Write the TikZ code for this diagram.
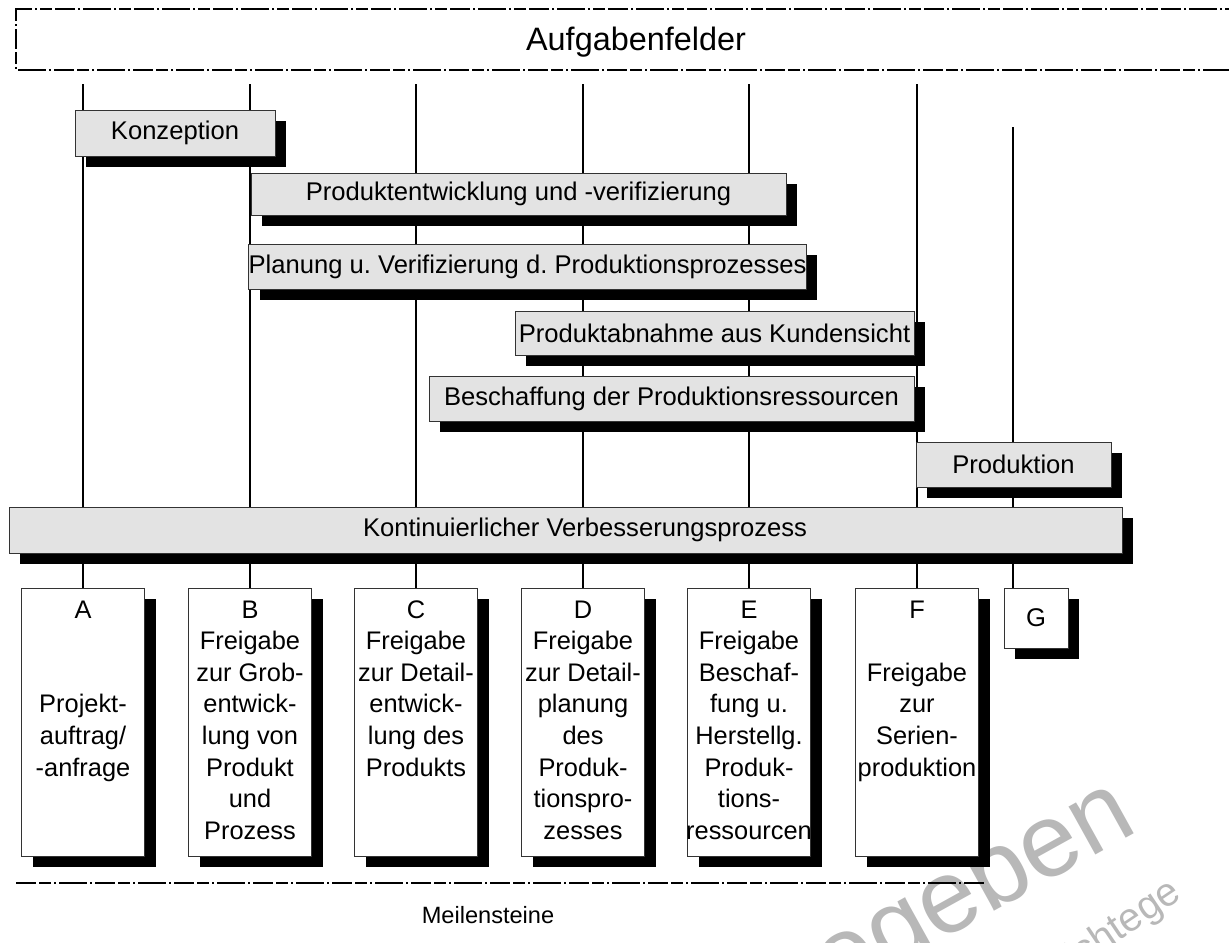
\documentclass[tikz,border=0pt]{standalone}
\usepackage{fontspec}
\setmainfont{Liberation Sans}
\usetikzlibrary{shadows}
\frenchspacing

\begin{document}
\begin{tikzpicture}[x=0.5pt,y=-0.5pt,
  every node/.style={inner sep=0pt, outer sep=0pt},
  vline/.style={line width=0.6pt, draw=black},
  shadowed/.style={drop shadow={shadow xshift=5.5pt, shadow yshift=-5.5pt,
      fill=black, opacity=1, draw=none}},
  taskbox/.style={shadowed, draw=black!80, line width=0.5pt, fill=black!11,
      font=\fontsize{12.8}{15}\selectfont},
  milebox/.style={shadowed, draw=black!80, line width=0.5pt, fill=white,
      minimum width=61.5pt, minimum height=134pt},
  miletext/.style={align=center, anchor=north,
      font=\fontsize{12.7}{15.8}\selectfont},
  stamp/.style={anchor=base east, text=black!28},
  dashdot/.style={line width=0.7pt,
      dash pattern=on 10pt off 1.5pt on 6pt off 1.5pt on 1pt off 1.5pt on 14pt off 1.5pt on 1pt off 1.5pt}]

\useasboundingbox (0,0) rectangle (1229,942);
\clip (0,0) rectangle (1229,942);

% background stamp
\node[stamp, rotate=29, font=\fontsize{52}{52}\selectfont] (wmbig) at (1140,830) {freigegeben};
\node[stamp, rotate=34, font=\fontsize{20}{20}\selectfont] (wmsmall) at (1183,898) {lichtege};

% task area frame
\draw[dashdot] (1260,9) -- (16,9) -- (16,70) -- (1260,70);
\node[font=\fontsize{16.2}{18}\selectfont] (aufg) at (636,42) {Aufgabenfelder};

% milestone track tops
\coordinate (tA) at (83,84);
\coordinate (tB) at (250,84);
\coordinate (tC) at (416,84);
\coordinate (tD) at (583,84);
\coordinate (tE) at (749,84);
\coordinate (tF) at (917,84);
\coordinate (tG) at (1013,127);

% milestone boxes (positions only, drawn later on top of the tracks)
\path (83,722)   node[milebox] (msA) {};
\path (250,722)  node[milebox] (msB) {};
\path (416,722)  node[milebox] (msC) {};
\path (583,722)  node[milebox] (msD) {};
\path (749,722)  node[milebox] (msE) {};
\path (917,722)  node[milebox] (msF) {};
\path (1036,618) node[milebox, minimum width=32pt, minimum height=30pt,
      font=\fontsize{12.8}{15}\selectfont] (msG) {G};

% vertical tracks
\foreach \m in {A,B,C,D,E,F}
  \draw[vline] (t\m) -- (ms\m.north);
\draw[vline] (tG) -- (tG |- msG.north);

% task bars
\node[taskbox, minimum width=100pt, minimum height=23pt] (konz) at (175,133) {Konzeption};
\node[taskbox, minimum width=267.5pt, minimum height=21pt] (pev) at (518.5,194)
  {Produktentwicklung und -verifizierung};
\node[taskbox, minimum width=276.5pt, minimum height=22.5pt] (pvp) at (527.5,266.5)
  {Planung u. Verifizierung d. Produktionsprozesses};
\node[taskbox, minimum width=199.5pt, minimum height=22pt] (pak) at (714.5,333)
  {Produktabnahme aus Kundensicht};
\node[taskbox, minimum width=242.5pt, minimum height=22.5pt] (bes) at (671.5,398.5)
  {Beschaffung der Produktionsressourcen};
\node[taskbox, minimum width=97.5pt, minimum height=22.5pt] (prod) at (1013.5,464.5)
  {Produktion};
\node[taskbox, minimum width=556.5pt, minimum height=23pt] (kvp) at (565.5,530) {};
\node[font=\fontsize{12.8}{15}\selectfont] (kvptext) at (585,530)
  {Kontinuierlicher Verbesserungsprozess};

% milestone boxes drawn over the tracks
\node[milebox] at (msA) {};
\node[milebox] at (msB) {};
\node[milebox] at (msC) {};
\node[milebox] at (msD) {};
\node[milebox] at (msE) {};
\node[milebox] at (msF) {};
\node[milebox, minimum width=32pt, minimum height=30pt,
      font=\fontsize{12.8}{15}\selectfont] at (msG) {G};

% milestone texts
\node[miletext] (txA) at ([yshift=-4pt]msA.north)
  {\strut A\\\mbox{}\\\mbox{}\\Projekt-\\auftrag/\\-anfrage};
\node[miletext] (txB) at ([yshift=-4pt]msB.north)
  {\strut B\\Freigabe\\zur Grob-\\entwick-\\lung von\\Produkt\\und\\Prozess};
\node[miletext] (txC) at ([yshift=-4pt]msC.north)
  {\strut C\\Freigabe\\zur Detail-\\entwick-\\lung des\\Produkts};
\node[miletext] (txD) at ([yshift=-4pt]msD.north)
  {\strut D\\Freigabe\\zur Detail-\\planung\\des\\Produk-\\tionspro-\\zesses};
\node[miletext] (txE) at ([yshift=-4pt]msE.north)
  {\strut E\\Freigabe\\Beschaf-\\fung u.\\Herstellg.\\Produk-\\tions-\\ressourcen};
\node[miletext] (txF) at ([yshift=-4pt]msF.north)
  {\strut F\\\mbox{}\\Freigabe\\zur\\Serien-\\produktion};

% milestone axis
\coordinate (axL) at (16,883);
\coordinate (axR) at (987,883);
\draw[dashdot] (axL) -- (axR);
\node[font=\fontsize{11.8}{14}\selectfont] (meil) at (488,915) {Meilensteine};

\end{tikzpicture}
\end{document}
